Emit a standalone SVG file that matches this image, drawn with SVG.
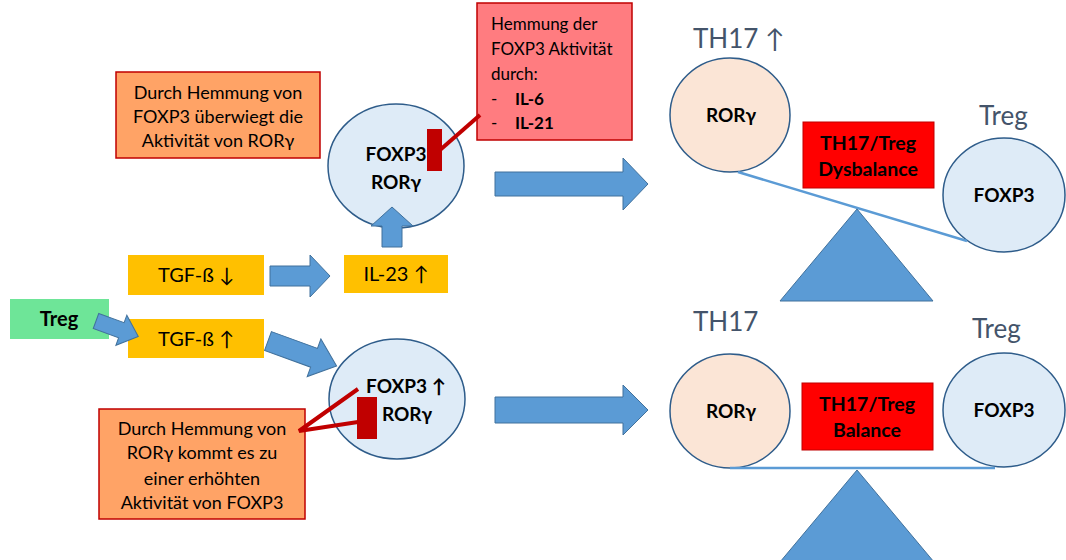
<svg xmlns="http://www.w3.org/2000/svg" width="1066" height="560" viewBox="0 0 1066 560">
<defs>
<style>
text{font-family:Lato,"Liberation Sans","DejaVu Sans",sans-serif;fill:#000}
.t16{font-size:18px}
.tp{font-size:17px}
.b17{font-size:19px;font-weight:bold}
.b18{font-size:19.5px;font-weight:bold}
.y{font-size:20px}
.lab{font-size:26px;fill:#44546A}
.c{text-anchor:middle}
.orange{fill:#FFA366;stroke:#C00000;stroke-width:1.5}
.pink{fill:#FF7C80;stroke:#C00000;stroke-width:1.5}
.yellow{fill:#FFC000}
.green{fill:#6EE598}
.red{fill:#FF0000;stroke:#C00000;stroke-width:1}
.cb{fill:#DEEBF7;stroke:#2E5C8A;stroke-width:1.5}
.cp{fill:#FBE5D6;stroke:#2E5C8A;stroke-width:1.5}
.arr{fill:#5B9BD5;stroke:#41719C;stroke-width:1}
.inh{stroke:#C00000;stroke-width:4;fill:none}
.bar{fill:#C00000}
.beam{stroke:#5B9BD5;stroke-width:2.5;fill:none}
.tri{fill:#5B9BD5;stroke:#41719C;stroke-width:1}
</style>
</defs>

<g id="note-top-left">
<rect class="orange" x="116" y="72" width="204" height="86"/>
<text class="t16 c" x="218" y="99">Durch Hemmung von</text>
<text class="t16 c" x="218" y="123">FOXP3 überwiegt die</text>
<text class="t16 c" x="218" y="147">Aktivität von RORγ</text>
</g>

<g id="note-inhibition">
<rect class="pink" x="477" y="3" width="155" height="137"/>
<text class="tp" x="491" y="30">Hemmung der</text>
<text class="tp" x="491" y="55">FOXP3 Aktivität</text>
<text class="tp" x="491" y="80">durch:</text>
<text class="tp" x="491" y="105">-</text>
<text class="tp" x="515" y="105" font-weight="bold">IL-6</text>
<text class="tp" x="491" y="129">-</text>
<text class="tp" x="515" y="129" font-weight="bold">IL-21</text>
</g>

<g id="cell-top">
<ellipse class="cb" cx="396" cy="166" rx="68" ry="62"/>
<text class="b17 c" x="396" y="161">FOXP3</text>
<text class="b17 c" x="396" y="189">RORγ</text>
</g>

<g id="tgf-down">
<rect class="yellow" x="128" y="255" width="136" height="40"/>
<text class="y c" x="196" y="282">TGF-ß ↓</text>
</g>

<g id="il23">
<rect class="yellow" x="344" y="255" width="104" height="38"/>
<text class="y c" x="396" y="281">IL-23 ↑</text>
</g>

<g id="treg-start">
<rect class="green" x="10" y="299" width="99" height="40"/>
<text class="c" x="59" y="326" font-size="20" font-weight="bold">Treg</text>
</g>

<g id="tgf-up">
<rect class="yellow" x="128" y="319" width="136" height="39"/>
<text class="y c" x="196" y="346">TGF-ß ↑</text>
</g>

<g id="cell-bottom">
<ellipse class="cb" cx="397" cy="399" rx="68" ry="60"/>
<text class="b17 c" x="406" y="393">FOXP3 ↑</text>
<text class="b17 c" x="407" y="421">RORγ</text>
</g>

<g id="note-bottom-left">
<rect class="orange" x="99" y="409" width="206" height="110"/>
<text class="t16 c" x="202" y="435">Durch Hemmung von</text>
<text class="t16 c" x="202" y="459">RORγ kommt es zu</text>
<text class="t16 c" x="202" y="485">einer erhöhten</text>
<text class="t16 c" x="202" y="509">Aktivität von FOXP3</text>
</g>

<g id="th17-top">
<text class="lab" x="693" y="48">TH17 ↑</text>
<ellipse class="cp" cx="730" cy="115" rx="60" ry="57"/>
<text class="b17 c" x="731" y="122">RORγ</text>
</g>

<g id="treg-top">
<text class="lab" x="979" y="125">Treg</text>
<ellipse class="cb" cx="1004" cy="195" rx="61" ry="57"/>
<text class="b17 c" x="1004" y="202">FOXP3</text>
</g>

<g id="dysbalance">
<rect class="red" x="803" y="122" width="131" height="66"/>
<text class="b18 c" x="868" y="150">TH17/Treg</text>
<text class="b18 c" x="868" y="176">Dysbalance</text>
</g>

<g id="th17-bottom">
<text class="lab" x="693" y="331">TH17</text>
<ellipse class="cp" cx="730" cy="411" rx="60" ry="57"/>
<text class="b17 c" x="731" y="418">RORγ</text>
</g>

<g id="treg-bottom">
<text class="lab" x="972" y="338">Treg</text>
<ellipse class="cb" cx="1004" cy="410" rx="61" ry="57"/>
<text class="b17 c" x="1004" y="417">FOXP3</text>
</g>

<g id="balance">
<rect class="red" x="802" y="383" width="131" height="67"/>
<text class="b18 c" x="867" y="411">TH17/Treg</text>
<text class="b18 c" x="867" y="437">Balance</text>
</g>

<g id="scales">
<line class="beam" x1="738" y1="172" x2="967" y2="241"/>
<polygon class="tri" points="857,209 933,301 780,301"/>
<line class="beam" x1="730" y1="468" x2="995" y2="468"/>
<polygon class="tri" points="857,470 934,562 780,562"/>
</g>

<g id="connectors">
<path class="arr" d="M0,-8 L27,-8 L27,-16 L45,0 L27,16 L27,8 L0,8 Z" transform="translate(96,321) rotate(20)"/>
<path class="arr" d="M0,-10 L40,-10 L40,-21 L60,0 L40,21 L40,10 L0,10 Z" transform="translate(270,276)"/>
<path class="arr" d="M0,-10 L21,-10 L21,-21 L40,0 L21,21 L21,10 L0,10 Z" transform="translate(392,247) rotate(-90)"/>
<path class="arr" d="M0,-10 L49,-10 L49,-20 L73,0 L49,20 L49,10 L0,10 Z" transform="translate(268,341) rotate(20)"/>
<path class="arr" d="M0,-12 L128,-12 L128,-26 L153,0 L128,26 L128,12 L0,12 Z" transform="translate(495,184)"/>
<path class="arr" d="M0,-13 L128,-13 L128,-25 L153,0 L128,25 L128,13 L0,13 Z" transform="translate(495,410)"/>
<line class="inh" x1="440" y1="150" x2="480" y2="115"/>
<rect class="bar" x="427" y="129" width="15" height="42"/>
<polyline class="inh" points="358,389 299,431 358,422"/>
<rect class="bar" x="357" y="397" width="20" height="42"/>
</g>
</svg>
